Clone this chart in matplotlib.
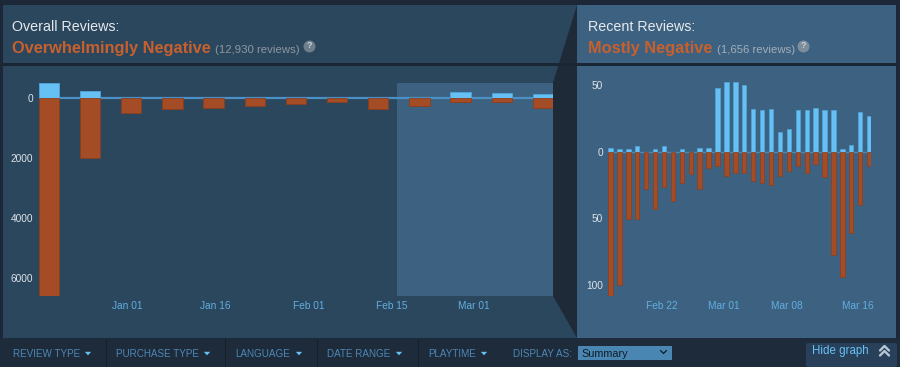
import numpy as np
import matplotlib
matplotlib.use("Agg")
import matplotlib.pyplot as plt
import matplotlib.dates as mdates
from matplotlib.patches import Rectangle, Polygon, FancyBboxPatch
from matplotlib.lines import Line2D

plt.rcParams['font.family'] = ['Liberation Sans', 'DejaVu Sans']

# ---------------- data ----------------
overall_title = "Overall Reviews:"
overall_summary = "Overwhelmingly Negative"
overall_count = "(12,930 reviews)"
recent_title = "Recent Reviews:"
recent_summary = "Mostly Negative"
recent_count = "(1,656 reviews)"

week_starts = ["2022-12-17", "2022-12-24", "2022-12-31", "2023-01-07", "2023-01-14",
               "2023-01-21", "2023-01-28", "2023-02-04", "2023-02-11", "2023-02-18",
               "2023-02-25", "2023-03-04", "2023-03-11"]
week_positive = [520, 255, 15, 10, 12, 8, 10, 9, 12, 14, 200, 178, 155]
week_negative = [6590, 2000, 500, 344, 333, 267, 200, 133, 344, 267, 111, 133, 311]
overall_ticks = ["2023-01-01", "2023-01-16", "2023-02-01", "2023-02-15", "2023-03-01"]
overall_ticklabels = ["Jan 01", "Jan 16", "Feb 01", "Feb 15", "Mar 01"]
overall_yticks = [0, -2000, -4000, -6000]
overall_yticklabels = ["0", "2000", "4000", "6000"]
recent_window = ["2023-02-16", "2023-03-17"]

day_dates = ["2023-02-16", "2023-02-17", "2023-02-18", "2023-02-19", "2023-02-20",
             "2023-02-21", "2023-02-22", "2023-02-23", "2023-02-24", "2023-02-25",
             "2023-02-26", "2023-02-27", "2023-02-28", "2023-03-01", "2023-03-02",
             "2023-03-03", "2023-03-04", "2023-03-05", "2023-03-06", "2023-03-07",
             "2023-03-08", "2023-03-09", "2023-03-10", "2023-03-11", "2023-03-12",
             "2023-03-13", "2023-03-14", "2023-03-15", "2023-03-16", "2023-03-17"]
day_positive = [3, 2, 2, 4, 0, 2, 4, 0, 2, 0, 3, 3, 48, 52, 52, 50, 32, 31, 32, 15,
                17, 31, 31, 33, 31, 31, 2, 5, 30, 27]
day_negative = [108.5, 100, 50.5, 50.5, 28, 43.5, 27, 37, 24, 16.5, 28, 12, 11, 18, 16,
                16, 22, 24, 25, 18, 14.5, 10.5, 16, 9, 19, 78, 94.5, 61.5, 40.5, 11]
recent_ticks = ["2023-02-22", "2023-03-01", "2023-03-08", "2023-03-16"]
recent_ticklabels = ["Feb 22", "Mar 01", "Mar 08", "Mar 16"]
recent_yticks = [50, 0, -50, -100]
recent_yticklabels = ["50", "0", "50", "100"]

filters = ["REVIEW TYPE", "PURCHASE TYPE", "LANGUAGE", "DATE RANGE", "PLAYTIME"]
display_label = "DISPLAY AS:"
display_value = "Summary"
hide_label = "Hide graph"

# ---------------- style ----------------
W, H = 900, 367
C_OUTER = "#1c2838"
C_LEFT = "#2a475e"
C_RIGHT = "#3d6180"
C_BOTTOM = "#1e2b3b"
C_POS = "#66c0f4"
C_POS_E = "#4fa6da"
C_NEG = "#a34c25"
C_NEG_E = "#8c3f1e"
C_ZERO = "#4b8fc4"
C_TICK = "#dde3e8"
C_DATE = "#62aee0"
C_SUMMARY = "#c8602d"
C_FILTER = "#4d88b6"

fig = plt.figure(figsize=(W / 100, H / 100), dpi=100, facecolor=C_OUTER)


def fx(x):
    return x / W


def fy(y):
    return 1 - y / H


def rect(x0, y0, x1, y1, color, z=-10):
    fig.patches.append(Rectangle((fx(x0), fy(y1)), (x1 - x0) / W, (y1 - y0) / H,
                                 transform=fig.transFigure, facecolor=color,
                                 edgecolor='none', zorder=z))


def poly(pts, color, z=-9):
    fig.patches.append(Polygon([(fx(a), fy(b)) for a, b in pts], closed=True,
                               transform=fig.transFigure, facecolor=color,
                               edgecolor='none', zorder=z))


def pline(pts, color, lw):
    fig.add_artist(Line2D([fx(a) for a, b in pts], [fy(b) for a, b in pts],
                          transform=fig.transFigure, color=color, lw=lw,
                          solid_capstyle='round', solid_joinstyle='round'))


# panels
rect(3, 5, 577, 338, C_LEFT)
rect(577, 5, 896, 338, C_RIGHT)
rect(3, 63.3, 577, 65.7, "#1b2634", z=-8)
rect(577, 63.3, 896, 65.7, "#1b2634", z=-8)
poly([(577, 5), (553, 82.7), (553, 296), (577, 338)], "#1f2a39")
rect(0, 338.3, 900, 367, C_BOTTOM)

# ---------------- headers ----------------
fig.text(fx(12.2), fy(30.7), overall_title, color="#e6e9ec", fontsize=10.3, va='baseline')
fig.text(fx(12.2), fy(53.3), overall_summary, color=C_SUMMARY, fontsize=11.8,
         fontweight='bold', va='baseline')
fig.text(fx(215), fy(53.0), overall_count, color="#8f98a0", fontsize=8.2, va='baseline')
fig.text(fx(587.7), fy(30.7), recent_title, color="#e6e9ec", fontsize=10.3, va='baseline')
fig.text(fx(587.7), fy(52.7), recent_summary, color=C_SUMMARY, fontsize=11.8,
         fontweight='bold', va='baseline')
fig.text(fx(716.7), fy(52.7), recent_count, color="#a3aeb9", fontsize=8.2, va='baseline')
for cx, cc in [(309, "#6f7e8c"), (803.3, "#7e8d9b")]:
    fig.add_artist(Line2D([fx(cx)], [fy(45.7)], transform=fig.transFigure, marker='o',
                          markersize=8.6, markerfacecolor=cc, markeredgecolor='none',
                          linestyle='none'))
    fig.text(fx(cx), fy(45.9), "?", color="#c9d1d8", fontsize=6.5, fontweight='bold',
             ha='center', va='center')

# ---------------- overall chart ----------------
ws = mdates.datestr2num(week_starts)
bar_w_week = 3.46
ax1 = fig.add_axes([fx(38.8), fy(296), (553 - 38.8) / W, (296 - 82.7) / H])
ax1.set_facecolor('none')
x_left = ws[0]
x_right = ws[-1] + bar_w_week
ax1.axvspan(mdates.datestr2num(recent_window[0]), x_right, color=C_RIGHT, zorder=0, lw=0)
ax1.axhline(0, color=C_ZERO, lw=1.6, zorder=1)
ax1.bar(ws, week_positive, width=bar_w_week, align='edge', color=C_POS,
        edgecolor=C_POS_E, linewidth=0.6, zorder=2)
ax1.bar(ws, [-v for v in week_negative], width=bar_w_week, align='edge', color=C_NEG,
        edgecolor=C_NEG_E, linewidth=0.6, zorder=2)
ax1.set_xlim(x_left, x_right)
ax1.set_ylim(-max(week_negative), max(week_positive))
ax1.set_xticks(mdates.datestr2num(overall_ticks))
ax1.set_xticklabels(overall_ticklabels)
ax1.set_yticks(overall_yticks)
ax1.set_yticklabels(overall_yticklabels)
ax1.tick_params(axis='x', length=0, pad=3.4, labelsize=7.3, labelcolor=C_DATE)
ax1.tick_params(axis='y', length=0, pad=4.2, labelsize=7.3, labelcolor=C_TICK)
for s in ax1.spines.values():
    s.set_visible(False)

# ---------------- recent chart ----------------
ds = mdates.datestr2num(day_dates)
bar_w_day = 0.49
ax2 = fig.add_axes([fx(608.3), fy(296), (871.3 - 608.3) / W, (296 - 82.3) / H])
ax2.set_facecolor('none')
ax2.axhline(0, color="#4f86b0", lw=1.0, zorder=1)
ax2.bar(ds, day_positive, width=bar_w_day, align='edge', color=C_POS,
        edgecolor=C_POS_E, linewidth=0.5, zorder=2)
ax2.bar(ds, [-v for v in day_negative], width=bar_w_day, align='edge', color=C_NEG,
        edgecolor=C_NEG_E, linewidth=0.5, zorder=2)
ax2.set_xlim(ds[0], ds[-1] + bar_w_day)
ax2.set_ylim(-max(day_negative), max(day_positive))
ax2.set_xticks(mdates.datestr2num(recent_ticks))
ax2.set_xticklabels(recent_ticklabels)
ax2.set_yticks(recent_yticks)
ax2.set_yticklabels(recent_yticklabels)
ax2.tick_params(axis='x', length=0, pad=3.4, labelsize=7.3, labelcolor=C_DATE)
ax2.tick_params(axis='y', length=0, pad=3.6, labelsize=7.3, labelcolor=C_TICK)
for s in ax2.spines.values():
    s.set_visible(False)

# ---------------- bottom filter bar ----------------
fsize = 7.1
filter_x = [12.7, 116.5, 235, 327, 428]
tri_x = [88, 207, 299, 399, 484]
for label, x0, tx in zip(filters, filter_x, tri_x):
    fig.text(fx(x0), fy(357), label, color=C_FILTER, fontsize=fsize, va='baseline')
    poly([(tx - 3.2, 351.8), (tx + 3.2, 351.8), (tx, 355.3)], "#67c1f5", z=5)
for dx in [106.7, 225.6, 317.5, 418, 503]:
    rect(dx - 0.5, 339, dx + 0.5, 367, "#16202c", z=-7)
fig.text(fx(512.6), fy(357), display_label, color=C_FILTER, fontsize=fsize, va='baseline')
rect(577.5, 345.7, 672, 360, "#4a86b2", z=-6)
fig.text(fx(581.5), fy(357), display_value, color="#0f1b26", fontsize=7.8, va='baseline')
pline([(660.5, 350.5), (663.5, 353.5), (666.5, 350.5)], "#0f1b26", 0.9)

# hide graph button
fig.patches.append(FancyBboxPatch((fx(806), fy(367)), 91 / W, 24 / H,
                                  boxstyle="round,pad=0,rounding_size=0.004",
                                  transform=fig.transFigure, facecolor="#28405a",
                                  edgecolor='none', zorder=-6))
fig.text(fx(812), fy(354.0), hide_label, color="#67c1f5", fontsize=8.3, va='baseline')
pline([(880, 350.5), (884.5, 346), (889, 350.5)], "#b7c7d6", 1.7)
pline([(880, 355.5), (884.5, 351), (889, 355.5)], "#b7c7d6", 1.7)

fig.savefig("out.png", dpi=100, facecolor=C_OUTER)
